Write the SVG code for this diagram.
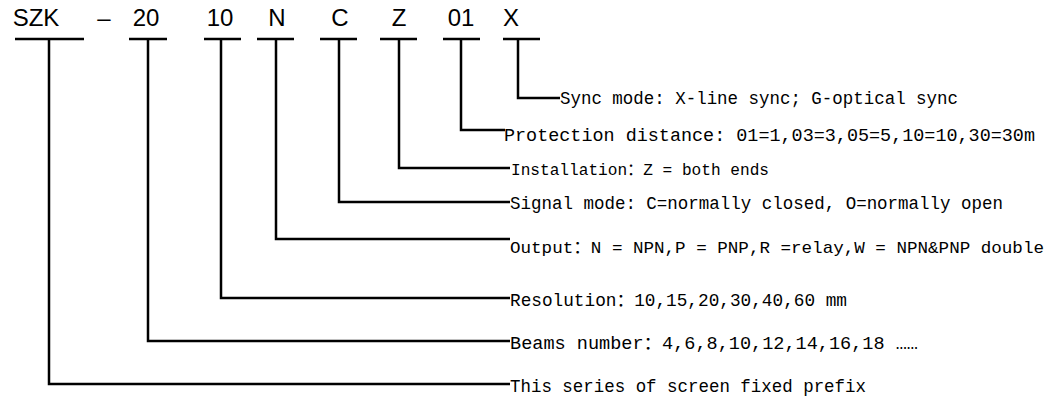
<svg xmlns="http://www.w3.org/2000/svg" width="1053" height="406" viewBox="0 0 1053 406">
<style>
.code{font-family:"Liberation Sans",Arial,sans-serif;font-size:24px;fill:#000;text-anchor:middle}
.lbl{font-family:"Liberation Mono","Noto Sans CJK SC",monospace;font-size:17.5px;fill:#000}
.bar{stroke:#000;stroke-width:2.5;fill:none}
.con{stroke:#000;stroke-width:2.5;fill:none;stroke-linejoin:miter}
</style>
<rect width="1053" height="406" fill="#fff"/>
<g id="code-SZK"><text class="code" x="36" y="26">SZK</text><line class="bar" x1="15" y1="39" x2="84" y2="39"/></g>
<g id="code-dash"><text class="code" x="104" y="26">–</text></g>
<g id="code-20"><text class="code" x="146" y="26">20</text><line class="bar" x1="129" y1="39" x2="167" y2="39"/></g>
<g id="code-10"><text class="code" x="220" y="26">10</text><line class="bar" x1="204" y1="39" x2="241" y2="39"/></g>
<g id="code-N"><text class="code" x="277" y="26">N</text><line class="bar" x1="257" y1="39" x2="294" y2="39"/></g>
<g id="code-C"><text class="code" x="340" y="26">C</text><line class="bar" x1="320" y1="39" x2="357" y2="39"/></g>
<g id="code-Z"><text class="code" x="399" y="26">Z</text><line class="bar" x1="380" y1="39" x2="417" y2="39"/></g>
<g id="code-01"><text class="code" x="461" y="26">01</text><line class="bar" x1="443" y1="39" x2="480" y2="39"/></g>
<g id="code-X"><text class="code" x="511" y="26">X</text><line class="bar" x1="503" y1="39" x2="540" y2="39"/></g>
<g id="connectors">
<path class="con" d="M518 39V98H560"/>
<path class="con" d="M461 39V130H505"/>
<path class="con" d="M399 39V168H510"/>
<path class="con" d="M339 39V202H510"/>
<path class="con" d="M276 39V239H510"/>
<path class="con" d="M221 39V298H510"/>
<path class="con" d="M148 39V341H510"/>
<path class="con" d="M49 39V384H510"/>
</g>
<g id="label-sync"><text class="lbl" x="560" y="104" textLength="398" lengthAdjust="spacingAndGlyphs">Sync mode: X-line sync; G-optical sync</text></g>
<g id="label-protection"><text class="lbl" x="504" y="141" style="font-size:18.4px" textLength="531" lengthAdjust="spacingAndGlyphs">Protection distance: 01=1,03=3,05=5,10=10,30=30m</text></g>
<g id="label-installation"><text class="lbl" x="511" y="175" style="font-size:16px" textLength="258" lengthAdjust="spacingAndGlyphs">Installation：Z = both ends</text></g>
<g id="label-signal"><text class="lbl" x="510" y="209" textLength="493" lengthAdjust="spacingAndGlyphs">Signal mode: C=normally closed, O=normally open</text></g>
<g id="label-output"><text class="lbl" x="510" y="253" style="font-size:17px" textLength="534" lengthAdjust="spacingAndGlyphs">Output：N = NPN,P = PNP,R =relay,W = NPN&amp;PNP double</text></g>
<g id="label-resolution"><text class="lbl" x="510" y="306" textLength="337" lengthAdjust="spacingAndGlyphs">Resolution：10,15,20,30,40,60 mm</text></g>
<g id="label-beams"><text class="lbl" x="510" y="349" textLength="408" lengthAdjust="spacingAndGlyphs">Beams number：4,6,8,10,12,14,16,18 ……</text></g>
<g id="label-prefix"><text class="lbl" x="510" y="392" textLength="356" lengthAdjust="spacingAndGlyphs">This series of screen fixed prefix</text></g>
</svg>
